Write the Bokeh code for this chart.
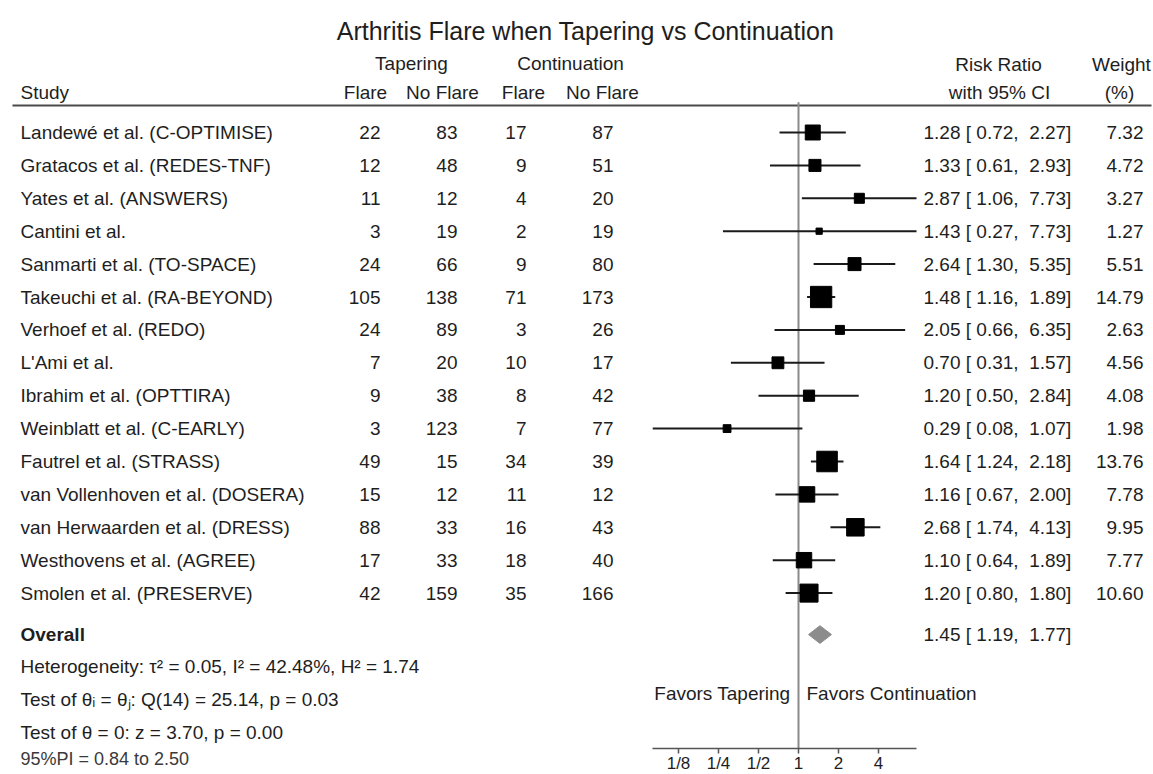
import math
from bokeh.plotting import figure
from bokeh.models import (ColumnDataSource, Range1d, LinearScale, LogAxis, FixedTicker)
from bokeh.core.properties import value
from bokeh.embed import file_html
from bokeh.resources import INLINE

# ---------------- data ----------------
studies = ["Landewé et al. (C-OPTIMISE)", "Gratacos et al. (REDES-TNF)", "Yates et al. (ANSWERS)",
           "Cantini et al.", "Sanmarti et al. (TO-SPACE)", "Takeuchi et al. (RA-BEYOND)",
           "Verhoef et al. (REDO)", "L'Ami et al.", "Ibrahim et al. (OPTTIRA)",
           "Weinblatt et al. (C-EARLY)", "Fautrel et al. (STRASS)", "van Vollenhoven et al. (DOSERA)",
           "van Herwaarden et al. (DRESS)", "Westhovens et al. (AGREE)", "Smolen et al. (PRESERVE)"]
taper_flare = [22, 12, 11, 3, 24, 105, 24, 7, 9, 3, 49, 15, 88, 17, 42]
taper_noflare = [83, 48, 12, 19, 66, 138, 89, 20, 38, 123, 15, 12, 33, 33, 159]
cont_flare = [17, 9, 4, 2, 9, 71, 3, 10, 8, 7, 34, 11, 16, 18, 35]
cont_noflare = [87, 51, 20, 19, 80, 173, 26, 17, 42, 77, 39, 12, 43, 40, 166]
rr = [1.28, 1.33, 2.87, 1.43, 2.64, 1.48, 2.05, 0.70, 1.20, 0.29, 1.64, 1.16, 2.68, 1.10, 1.20]
ci_lo = [0.72, 0.61, 1.06, 0.27, 1.30, 1.16, 0.66, 0.31, 0.50, 0.08, 1.24, 0.67, 1.74, 0.64, 0.80]
ci_hi = [2.27, 2.93, 7.73, 7.73, 5.35, 1.89, 6.35, 1.57, 2.84, 1.07, 2.18, 2.00, 4.13, 1.89, 1.80]
weight = [7.32, 4.72, 3.27, 1.27, 5.51, 14.79, 2.63, 4.56, 4.08, 1.98, 13.76, 7.78, 9.95, 7.77, 10.60]

overall_rr = 1.45
overall_lo = 1.19
overall_hi = 1.77

tick_values = [0.125, 0.25, 0.5, 1, 2, 4]
tick_labels = ["1/8", "1/4", "1/2", "1", "2", "4"]

title_text = "Arthritis Flare when Tapering vs Continuation"
het_text = "Heterogeneity: τ² = 0.05, I² = 42.48%, H² = 1.74"
testi_text = "Test of θᵢ = θⱼ: Q(14) = 25.14, p = 0.03"
test0_text = "Test of θ = 0: z = 3.70, p = 0.00"
pi_text = "95%PI = 0.84 to 2.50"

# ---------------- layout helpers ----------------
FONT_NAME = "Liberation Sans"
FONT = value(FONT_NAME)
FS = "19px"
TXT = "#1e1e1e"
LEFT = 20

W, H = 1153, 774

def fmt_ci(r, l, h):
    return f"{r:.2f} [ {l:.2f},\u00a0 {h:.2f}]"

# pixel-like range for text columns, log range for the forest plot
X1 = 798.0     # screen position of RR = 1
PER2 = 40.0    # px per doubling
xr = Range1d(2 ** ((0 - X1) / PER2), 2 ** ((W - X1) / PER2))
ROW0, ROWH = 132.0, 32.9
yr = Range1d((H - ROW0) / ROWH, -ROW0 / ROWH)
AXIS_ROW = 18.72

p = figure(width=W, height=H, output_backend="svg", toolbar_location=None,
           x_range=xr, y_range=yr, x_axis_type="log",
           x_axis_location=None, y_axis_location=None, min_border=0)
p.extra_x_ranges = {"px": Range1d(0, W)}
p.extra_x_scales = {"px": LinearScale()}
p.outline_line_color = None
p.background_fill_color = "white"
p.border_fill_color = "white"
p.grid.visible = False
p.xgrid.visible = False
p.ygrid.visible = False

rows = list(range(len(studies)))
src = ColumnDataSource(dict(
    y=rows, study=studies,
    tf=[str(v) for v in taper_flare], tn=[str(v) for v in taper_noflare],
    cf=[str(v) for v in cont_flare], cn=[str(v) for v in cont_noflare],
    rr=rr, lo=ci_lo, hi=ci_hi,
    rrtxt=[fmt_ci(r, l, h) for r, l, h in zip(rr, ci_lo, ci_hi)],
    wtxt=[f"{w:.2f}" for w in weight],
    size=[5.54 * math.sqrt(w) for w in weight],
))

def txt(x, y, t, align="left", size=FS, style="normal", color=TXT):
    p.text(x=[x], y=[y], text=[t], x_range_name="px", text_align=align,
           text_baseline="middle", text_font=FONT, text_font_size=size,
           text_font_style=style, text_color=color)

# title and headers
txt(585, -3.10, title_text, "center", "25px")
txt(411, -2.10, "Tapering", "center")
txt(570, -2.10, "Continuation", "center")
txt(998, -2.08, "Risk Ratio", "center")
txt(1121, -2.08, "Weight", "center")
txt(LEFT, -1.22, "Study")
txt(365, -1.22, "Flare", "center")
txt(442, -1.22, "No Flare", "center")
txt(523, -1.22, "Flare", "center")
txt(602, -1.22, "No Flare", "center")
txt(999, -1.22, "with 95% CI", "center")
txt(1119, -1.22, "(%)", "center")

# header rule
p.segment(x0=[12], x1=[1151], y0=[-0.82], y1=[-0.82], x_range_name="px",
          line_color="#4a4a4a", line_width=2)

# reference line at RR = 1
p.segment(x0=[1], x1=[1], y0=[-0.92], y1=[AXIS_ROW], line_color="#8a8a8a", line_width=2)

# table columns
common = dict(source=src, x_range_name="px", text_baseline="middle", text_font=FONT,
              text_font_size=FS, text_color=TXT)
p.text(x=LEFT, y="y", text="study", text_align="left", **common)
p.text(x=380, y="y", text="tf", text_align="right", **common)
p.text(x=457, y="y", text="tn", text_align="right", **common)
p.text(x=526, y="y", text="cf", text_align="right", **common)
p.text(x=613, y="y", text="cn", text_align="right", **common)
p.text(x=923, y="y", text="rrtxt", text_align="left", **common)
p.text(x=1143, y="y", text="wtxt", text_align="right", **common)

# CIs and squares
p.segment(x0="lo", x1="hi", y0="y", y1="y", source=src, line_color="#1a1a1a", line_width=2)
p.scatter(x="rr", y="y", size="size", marker="square", source=src,
          fill_color="black", line_color="black")

# overall
oy = 15.26
txt(LEFT, oy, "Overall", style="bold")
txt(923, oy, fmt_ci(overall_rr, overall_lo, overall_hi))
dh = 0.27
p.patch(x=[overall_lo, overall_rr, overall_hi, overall_rr],
        y=[oy, oy - dh, oy, oy + dh], fill_color="#8c8c8c", line_color="#8c8c8c")

txt(LEFT, 16.23, het_text)
txt(LEFT, 17.23, testi_text)
txt(LEFT, 18.24, test0_text)
txt(LEFT, 19.04, pi_text, size="18px", color="#3a3a3a")

txt(790, 17.05, "Favors Tapering", "right")
txt(806, 17.05, "Favors Continuation", "left")

# x axis (log scale) drawn at the bottom of the forest panel
ax = LogAxis(ticker=FixedTicker(ticks=tick_values),
             bounds=(min(ci_lo), max(ci_hi)),
             fixed_location=AXIS_ROW,
             major_label_overrides={v: l for v, l in zip(tick_values, tick_labels)})
ax.axis_line_color = "#555555"
ax.axis_line_width = 1.5
ax.major_tick_line_color = "#555555"
ax.major_tick_line_width = 1.5
ax.major_tick_out = 5
ax.major_tick_in = 0
ax.minor_tick_line_color = None
ax.major_label_standoff = 1
ax.major_label_text_font = FONT_NAME
ax.major_label_text_font_size = "17px"
ax.major_label_text_color = TXT
p.add_layout(ax, "below")

open("out.html", "w").write(file_html(p, INLINE))
